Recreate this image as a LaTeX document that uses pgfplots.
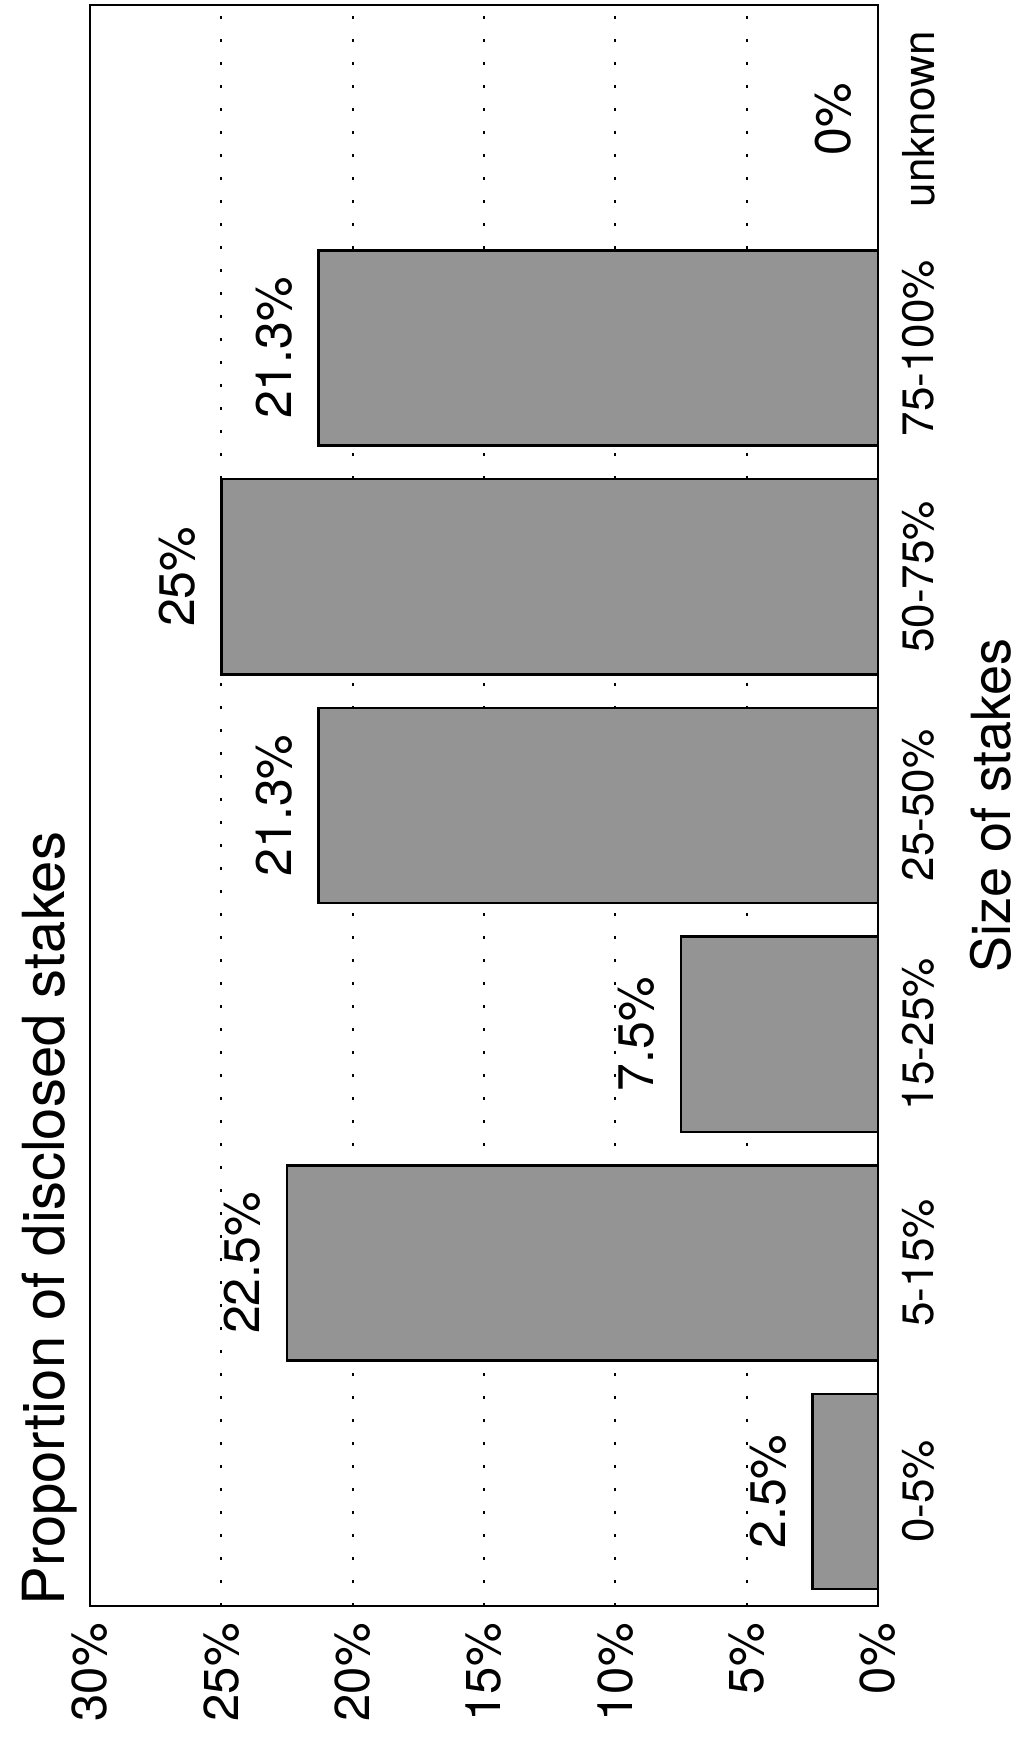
\documentclass[border=0pt]{standalone}
\usepackage{fontspec}
\setmainfont{TeX Gyre Heros}
\usepackage{pgfplots}
\pgfplotsset{compat=1.18}
\definecolor{barfill}{gray}{0.58}
\begin{document}
\begin{tikzpicture}
\begin{axis}[
  at={(0,0)}, anchor=south west,
  scale only axis, width=394pt, height=800.5pt,
  xbar, bar width=0.853,
  xmin=0, xmax=30, x dir=reverse,
  ymin=-0.5, ymax=6.5,
  xtick={0,5,...,30},
  xticklabels={0\%,5\%,10\%,15\%,20\%,25\%,30\%},
  ytick={0,...,6},
  yticklabels={0-5\%,5-15\%,15-25\%,25-50\%,50-75\%,75-100\%,unknown},
  yticklabel pos=right,
  major tick length=0pt,
  xticklabel style={rotate=90, anchor=east, inner sep=0pt, font=\fontsize{24.5}{24.5}\selectfont},
  xticklabel shift=8.5pt,
  yticklabel style={rotate=90, anchor=north, inner sep=0pt, font=\fontsize{22}{22}\selectfont},
  yticklabel shift=12pt,
  xmajorgrids, grid style={black, line width=0.9pt, dash pattern=on 1.5pt off 10pt},
  axis line style={line width=1pt},
  point meta=explicit symbolic,
  nodes near coords,
  nodes near coords style={rotate=90, anchor=south, inner sep=0pt, outer sep=13pt, font=\fontsize{25}{25}\selectfont, black},
  clip=false,
]
\addplot[draw=black, line width=1.2pt, fill=barfill] coordinates {
 (2.5,0) [2.5\%] (22.5,1) [22.5\%] (7.5,2) [7.5\%] (21.3,3) [21.3\%] (25,4) [25\%] (21.3,5) [21.3\%] (0,6) [0\%]
};
\end{axis}
\node[rotate=90, anchor=north west, inner sep=0pt, font=\fontsize{29}{29}\selectfont] at (-34pt,0pt) {Proportion of disclosed stakes};
\node[rotate=90, anchor=north, inner sep=0pt, font=\fontsize{27}{27}\selectfont] at (440pt,400.25pt) {Size of stakes};
\pgfresetboundingbox
\path[use as bounding box] (-45pt,-65.5pt) rectangle (465.5pt,803pt);
\end{tikzpicture}
\end{document}
